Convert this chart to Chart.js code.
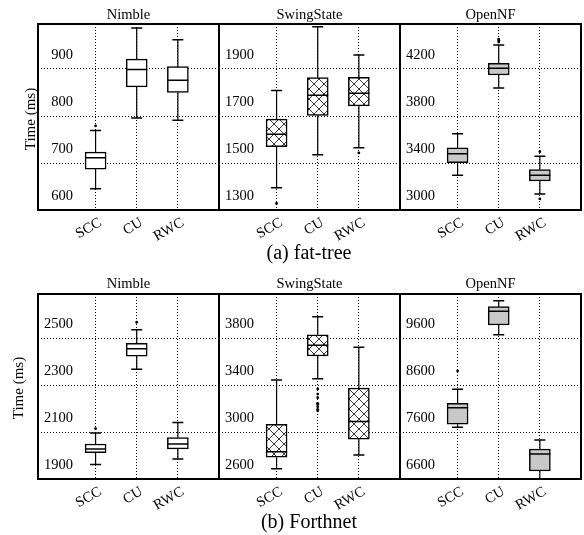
<!DOCTYPE html>
<html><head><meta charset="utf-8">
<script src="https://cdn.jsdelivr.net/npm/chart.js@4/dist/chart.umd.min.js"></script>
<style>
html,body{margin:0;padding:0;background:#fff;}
#wrap{position:relative;width:584px;height:535px;overflow:hidden;font-family:'Liberation Serif',serif;color:#000;}
canvas{position:absolute;}
.t{position:absolute;white-space:nowrap;line-height:1;transform:translate(-50%,-50%);}
</style></head><body><div id="wrap"></div>
<script>
// ---------- data ----------
const categories = ['SCC', 'CU', 'RWC'];
const systems = ['Nimble', 'SwingState', 'OpenNF'];
const captions = ['(a) fat-tree', '(b) Forthnet'];
const yTitle = 'Time (ms)';

// five-number summaries per category: [lowWhisker, q1, median, q3, highWhisker]
const fatTreeNimble = [[645, 687, 711, 723, 769], [796, 862, 899, 921, 987], [791, 850, 876, 905, 962]];
const fatTreeNimbleOutliers = [[779], [], []];
const fatTreeNimbleTicks = [600, 700, 800, 900];

const fatTreeSwingState = [[1395, 1569, 1622, 1687, 1809], [1535, 1703, 1788, 1863, 2080], [1565, 1743, 1797, 1865, 1960]];
const fatTreeSwingStateOutliers = [[1328], [], [1543]];
const fatTreeSwingStateTicks = [1300, 1500, 1700, 1900];

const fatTreeOpenNF = [[3295, 3403, 3479, 3530, 3649], [4038, 4149, 4206, 4248, 4404], [3136, 3247, 3295, 3343, 3457]];
const fatTreeOpenNFOutliers = [[], [4430, 4445, 4455], [3496, 3094]];
const fatTreeOpenNFTicks = [3000, 3400, 3800, 4200];

const forthnetNimble = [[1962, 2012, 2028, 2049, 2096], [2367, 2423, 2454, 2477, 2535], [1985, 2028, 2049, 2076, 2140]];
const forthnetNimbleOutliers = [[2114], [2567], []];
const forthnetNimbleTicks = [1900, 2100, 2300, 2500];

const forthnetSwingState = [[2688, 2785, 2832, 3065, 3443], [3454, 3647, 3738, 3828, 3981], [2804, 2940, 3089, 3374, 3721]];
const forthnetSwingStateOutliers = [[], [3366, 3323, 3292, 3244, 3236, 3215, 3193, 3181], []];
const forthnetSwingStateTicks = [2600, 3000, 3400, 3800];

const forthnetOpenNF = [[7700, 7764, 8117, 8211, 8509], [9670, 9877, 10168, 10266, 10394], [6606, 6770, 7132, 7238, 7430]];
const forthnetOpenNFOutliers = [[8898], [], []];
const forthnetOpenNFTicks = [6600, 7600, 8600, 9600];

// ---------- layout ----------
const FONT = "'Liberation Serif', serif";
const wrap = document.getElementById('wrap');
const panelX = [38, 219, 400];
const panelW = 181;
const rowY = [24, 294];
const rowH = [186, 185];
const L = 45, T = 40, R = 10, B = 55;

function hatchPattern() {
  const c = document.createElement('canvas');
  c.width = 10; c.height = 10;
  const g = c.getContext('2d');
  g.fillStyle = '#fff'; g.fillRect(0, 0, 10, 10);
  g.strokeStyle = '#222'; g.lineWidth = 0.9;
  g.beginPath();
  g.moveTo(-1, -1); g.lineTo(11, 11);
  g.moveTo(11, -1); g.lineTo(-1, 11);
  g.stroke();
  return g.createPattern(c, 'repeat');
}

function measure(text, size) {
  const g = document.createElement('canvas').getContext('2d');
  g.font = size + 'px ' + FONT;
  return g.measureText(text).width;
}

function addText(text, x, y, size, rot) {
  const d = document.createElement('div');
  d.className = 't';
  d.textContent = text;
  d.style.left = x + 'px'; d.style.top = y + 'px';
  d.style.fontSize = size + 'px';
  if (rot) d.style.transform = 'translate(-50%,-50%) rotate(' + rot + 'deg)';
  wrap.appendChild(d);
}

function makePanel(row, col, stats, outliers, ticks, fill) {
  const x0 = panelX[col], y0 = rowY[row], h = rowH[row];
  const canvas = document.createElement('canvas');
  canvas.width = panelW + L + R; canvas.height = h + T + B;
  canvas.style.left = (x0 - L) + 'px'; canvas.style.top = (y0 - T) + 'px';
  wrap.appendChild(canvas);
  const step = ticks[1] - ticks[0];
  const yMin = ticks[0];
  const yMax = ticks[0] + (h / 47) * step;
  const tickSize = 14.5;
  const widest = Math.max(...ticks.map(v => measure(String(v), tickSize)));
  const boxPlugin = {
    id: 'boxes',
    afterDatasetsDraw(chart) {
      const { ctx, chartArea: a } = chart;
      const xs = chart.scales.x, ys = chart.scales.y;
      ctx.save();
      ctx.strokeStyle = '#000'; ctx.fillStyle = '#000';
      stats.forEach((s, i) => {
        const cx = xs.getPixelForValue(i + 1);
        const p = s.map(v => ys.getPixelForValue(v));
        ctx.lineWidth = 1.2;
        ctx.beginPath();
        ctx.moveTo(cx, p[3]); ctx.lineTo(cx, p[4]);
        ctx.moveTo(cx, p[1]); ctx.lineTo(cx, p[0]);
        ctx.stroke();
        ctx.lineWidth = 1.5;
        ctx.beginPath();
        ctx.moveTo(cx - 5.5, p[4]); ctx.lineTo(cx + 5.5, p[4]);
        ctx.moveTo(cx - 5.5, p[0]); ctx.lineTo(cx + 5.5, p[0]);
        ctx.moveTo(cx - 10.5, p[2]); ctx.lineTo(cx + 10.5, p[2]);
        ctx.stroke();
        outliers[i].forEach(v => {
          ctx.beginPath();
          ctx.arc(cx, ys.getPixelForValue(v), 1.4, 0, Math.PI * 2);
          ctx.fill();
        });
      });
      ctx.lineWidth = 2;
      ctx.strokeRect(a.left, a.top, a.right - a.left, a.bottom - a.top);
      ctx.restore();
    }
  };
  new Chart(canvas, {
    type: 'bar',
    data: {
      datasets: [{
        data: stats.map((s, i) => ({ x: i + 1, y: [s[1], s[3]] })),
        backgroundColor: fill,
        borderColor: '#000',
        borderWidth: 1.5,
        borderSkipped: false,
        barThickness: 21
      }]
    },
    options: {
      responsive: false, animation: false, devicePixelRatio: 1,
      layout: { padding: { left: L, top: T, right: R, bottom: 0 } },
      plugins: { legend: { display: false }, tooltip: { enabled: false }, title: { display: false } },
      scales: {
        x: {
          type: 'linear', min: -0.4, max: 4.0, offset: false,
          afterBuildTicks: s => { s.ticks = categories.map((c, i) => ({ value: i + 1 })); },
          afterFit: s => { s.height = B; },
          ticks: {
            autoSkip: false, minRotation: 30, maxRotation: 30, padding: 4, labelOffset: 5,
            callback: v => categories[v - 1],
            font: { family: FONT, size: tickSize }, color: '#000'
          },
          grid: { color: '#000', lineWidth: 1, drawTicks: false, offset: false },
          border: { display: false, dash: [1, 2] }
        },
        y: {
          type: 'linear', min: yMin, max: yMax,
          afterBuildTicks: s => { s.ticks = ticks.map(v => ({ value: v })); },
          afterFit: s => { s.width = 0; },
          ticks: {
            mirror: true, crossAlign: 'far', padding: 35 - widest, labelOffset: -14,
            autoSkip: false, callback: v => String(v),
            font: { family: FONT, size: tickSize }, color: '#000'
          },
          grid: { color: '#000', lineWidth: 1, drawTicks: false },
          border: { display: false, dash: [1, 2] }
        }
      }
    },
    plugins: [boxPlugin]
  });
}

const hatch = hatchPattern();
const fills = ['#ffffff', hatch, '#c8c8c8'];
makePanel(0, 0, fatTreeNimble, fatTreeNimbleOutliers, fatTreeNimbleTicks, fills[0]);
makePanel(0, 1, fatTreeSwingState, fatTreeSwingStateOutliers, fatTreeSwingStateTicks, fills[1]);
makePanel(0, 2, fatTreeOpenNF, fatTreeOpenNFOutliers, fatTreeOpenNFTicks, fills[2]);
makePanel(1, 0, forthnetNimble, forthnetNimbleOutliers, forthnetNimbleTicks, fills[0]);
makePanel(1, 1, forthnetSwingState, forthnetSwingStateOutliers, forthnetSwingStateTicks, fills[1]);
makePanel(1, 2, forthnetOpenNF, forthnetOpenNFOutliers, forthnetOpenNFTicks, fills[2]);

// titles, captions, axis titles
systems.forEach((s, i) => {
  addText(s, panelX[i] + panelW / 2, 14, 14.5);
  addText(s, panelX[i] + panelW / 2, 283, 14.5);
});
addText(captions[0], 309, 252, 20);
addText(captions[1], 309, 521, 20);
addText(yTitle, 30, 119, 15, -90);
addText(yTitle, 18, 388, 15, -90);
</script></body></html>
